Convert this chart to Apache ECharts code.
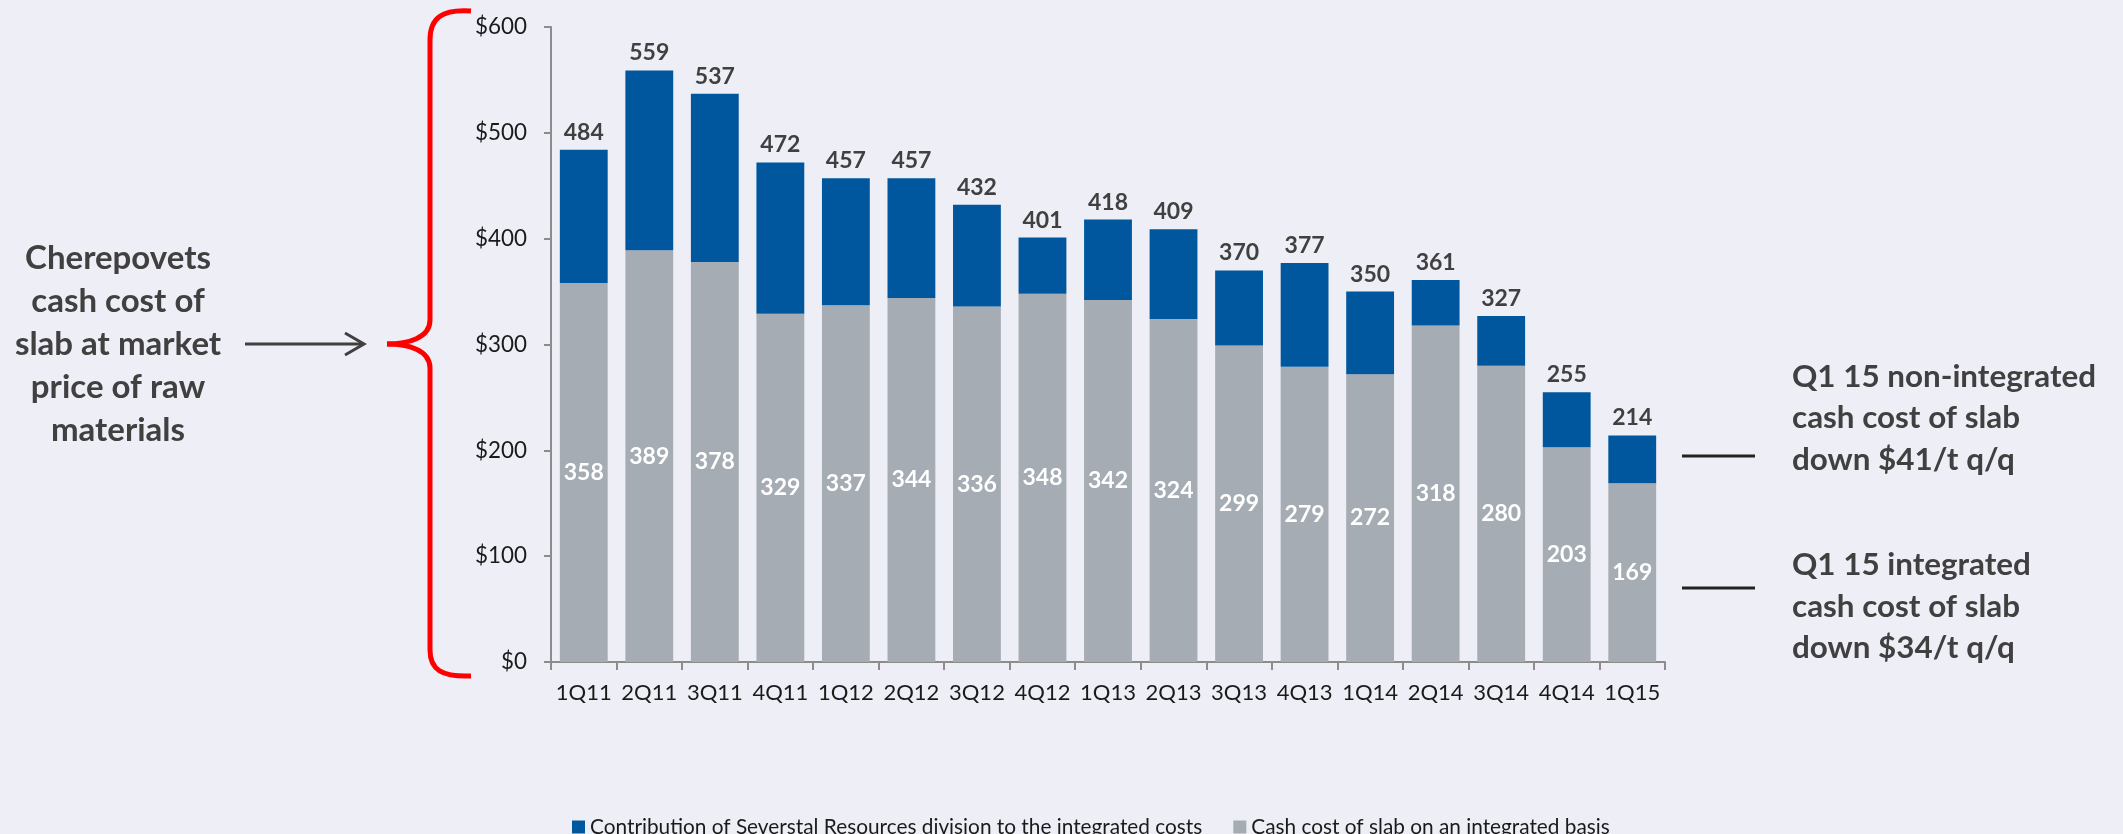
<!DOCTYPE html>
<html>
<head>
<meta charset="utf-8">
<script src="https://cdn.jsdelivr.net/npm/echarts@6/dist/echarts.min.js"></script>
<style>
html,body{margin:0;padding:0;background:#EEEEF6;}
#chart{width:2123px;height:834px;}
</style>
</head>
<body>
<div id="chart"></div>
<script>
const categories = ['1Q11','2Q11','3Q11','4Q11','1Q12','2Q12','3Q12','4Q12','1Q13','2Q13','3Q13','4Q13','1Q14','2Q14','3Q14','4Q14','1Q15'];
const totals     = [484,559,537,472,457,457,432,401,418,409,370,377,350,361,327,255,214];
const integrated = [358,389,378,329,337,344,336,348,342,324,299,279,272,318,280,203,169];
const contribution = totals.map((t, i) => t - integrated[i]);
const yTicks = [0,100,200,300,400,500,600];
const seriesNames = ['Contribution of Severstal Resources division to the integrated costs','Cash cost of slab on an integrated basis'];
const leftNote = ['Cherepovets','cash cost of','slab at market','price of raw','materials'];
const rightNote1 = ['Q1 15 non-integrated','cash cost of slab','down $41/t q/q'];
const rightNote2 = ['Q1 15 integrated','cash cost of slab','down $34/t q/q'];

const FAMILY = 'Lato';
const FONT = 'Lato, "Open Sans", sans-serif';

// choose font sizes so that text widths match the reference
const mctx = document.createElement('canvas').getContext('2d');
function fit(text, weight, targetW) {
  mctx.font = weight + ' 100px ' + FONT;
  const w = mctx.measureText(text).width;
  return Math.round(100 * targetW / w * 10) / 10;
}
const leftSize   = fit('Cherepovets', 'bold', 186);
const rightSize  = fit('Q1 15 non-integrated', 'bold', 304);
const legendSize = fit(seriesNames[0], 'normal', 611);
const yLabSize   = fit('$600', 'normal', 52);
const xLabSize   = fit('1Q11', 'normal', 56);
const barLabSize = fit('484', 'bold', 40);

const chart = echarts.init(document.getElementById('chart'));

const red = '#FF0000';
const graphics = [];
const bw = 5;
const bz = (x1,y1,cpx1,cpy1,cpx2,cpy2,x2,y2) => ({type:'bezierCurve', shape:{x1,y1,cpx1,cpy1,cpx2,cpy2,x2,y2}, style:{stroke:red, lineWidth:bw, fill:null}});
graphics.push(bz(471,11, 442,9, 430,18, 430,40));
graphics.push({type:'line', shape:{x1:430,y1:40,x2:430,y2:320}, style:{stroke:red,lineWidth:bw}});
graphics.push(bz(430,320, 430,338, 408,344, 387,344));
graphics.push(bz(387,344, 408,344, 430,350, 430,368));
graphics.push({type:'line', shape:{x1:430,y1:368,x2:430,y2:650}, style:{stroke:red,lineWidth:bw}});
graphics.push(bz(430,650, 430,670, 442,677, 471,676));
graphics.push({type:'line', shape:{x1:245,y1:344,x2:363,y2:344}, style:{stroke:'#404040',lineWidth:3}});
graphics.push({type:'polyline', shape:{points:[[345,333],[364,344],[345,355]]}, style:{stroke:'#404040',lineWidth:3,fill:null}});
const leftY = [258,301,344,387,430];
leftNote.forEach((t,i)=>graphics.push({type:'text', style:{text:t, x:118, y:leftY[i], font:'bold '+leftSize+'px '+FONT, fill:'#404040', textAlign:'center', textVerticalAlign:'middle'}}));
const r1Y = [377,418,460], r2Y = [565,607,648];
rightNote1.forEach((t,i)=>graphics.push({type:'text', style:{text:t, x:1792, y:r1Y[i], font:'bold '+rightSize+'px '+FONT, fill:'#404040', textAlign:'left', textVerticalAlign:'middle'}}));
rightNote2.forEach((t,i)=>graphics.push({type:'text', style:{text:t, x:1792, y:r2Y[i], font:'bold '+rightSize+'px '+FONT, fill:'#404040', textAlign:'left', textVerticalAlign:'middle'}}));
graphics.push({type:'line', shape:{x1:1682,y1:456,x2:1755,y2:456}, style:{stroke:'#222',lineWidth:3}});
graphics.push({type:'line', shape:{x1:1682,y1:588,x2:1755,y2:588}, style:{stroke:'#222',lineWidth:3}});

chart.setOption({
  backgroundColor:'#EEEEF6',
  animation:false,
  textStyle:{fontFamily:FONT},
  grid:{left:551, right:458, top:27, bottom:172, containLabel:false},
  legend:{
    data:seriesNames, left:567, top:821.5 - 10, itemWidth:13, itemHeight:13, itemGap:31,
    icon:'rect', textStyle:{fontSize:legendSize, lineHeight:20, color:'#1a1a1a', fontFamily:FONT}
  },
  xAxis:{
    type:'category', data:categories,
    axisLine:{lineStyle:{color:'#8c8c8c', width:2}},
    axisTick:{show:true, length:8, lineStyle:{color:'#8c8c8c', width:2}, alignWithLabel:false},
    axisLabel:{fontSize:xLabSize, color:'#1a1a1a', margin:20, interval:0}
  },
  yAxis:{
    type:'value', min:yTicks[0], max:yTicks[yTicks.length-1], interval:100,
    axisLine:{show:true, lineStyle:{color:'#8c8c8c', width:2}},
    axisTick:{show:true, length:7, lineStyle:{color:'#8c8c8c', width:2}},
    splitLine:{show:false},
    axisLabel:{fontSize:yLabSize, color:'#1a1a1a', margin:24, formatter:v=>'$'+v}
  },
  series:[
    {
      name:seriesNames[1], type:'bar', stack:'c', data:integrated, barCategoryGap:'27%',
      itemStyle:{color:'#A6ACB3'},
      label:{show:true, position:'inside', color:'#fff', fontWeight:'bold', fontSize:barLabSize, fontFamily:FONT}
    },
    {
      name:seriesNames[0], type:'bar', stack:'c', data:contribution,
      itemStyle:{color:'#00579E'},
      label:{show:true, position:'top', distance:6, color:'#404040', fontWeight:'bold', fontSize:barLabSize, fontFamily:FONT,
        formatter:p=>String(totals[p.dataIndex])}
    }
  ],
  graphic:graphics
});
</script>
</body>
</html>
